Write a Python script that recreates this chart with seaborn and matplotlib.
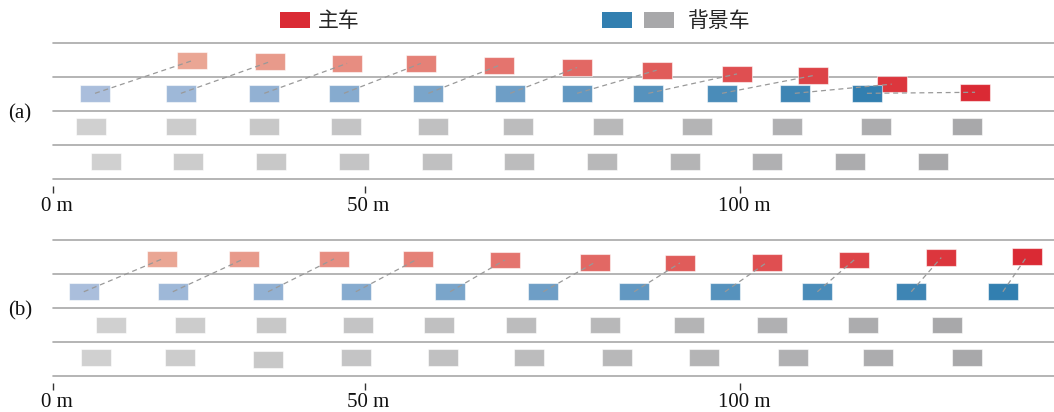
import numpy as np
import pandas as pd
import matplotlib
matplotlib.use("Agg")
import matplotlib.pyplot as plt
import seaborn as sns
from matplotlib.patches import Patch
from matplotlib.legend_handler import HandlerTuple
from matplotlib.markers import MarkerStyle
from matplotlib.transforms import ScaledTranslation

# ---------------------------------------------------------------- data
tick_pos = [0, 50, 100]
tick_labels = ["0 m", "50 m", "100 m"]
lane_edges = [0, 1, 2, 3, 4]
steps = list(range(11))

# (a) ego vehicle merges into the blue lane
a_ego_x = [22.3, 34.8, 47.2, 57.5, 67.9, 78.3, 88.9, 99.6, 109.7, 120.2, 131.3]
a_ego_y = [3.48, 3.45, 3.40, 3.40, 3.34, 3.28, 3.20, 3.09, 3.04, 2.79, 2.55]
a_blue_x = [6.7, 20.5, 33.9, 46.7, 58.5, 69.4, 78.3, 87.8, 97.6, 107.3, 116.9]
a_blue_y = [2.52] * 11
a_grey1_x = [6.1, 20.5, 33.9, 47.0, 59.1, 70.4, 82.4, 94.3, 106.3, 118.1, 130.2]
a_grey1_y = [1.54] * 11
a_grey0_x = [8.5, 21.6, 35.0, 48.3, 59.7, 70.6, 81.6, 92.7, 103.6, 114.7, 125.7]
a_grey0_y = [0.51] * 11

# (b) ego vehicle keeps its lane
b_ego_x = [17.5, 30.6, 45.1, 57.1, 68.7, 80.7, 92.0, 103.6, 115.2, 126.8, 138.2]
b_ego_y = [3.45, 3.45, 3.45, 3.45, 3.42, 3.35, 3.33, 3.35, 3.42, 3.49, 3.52]
b_blue_x = [4.9, 19.2, 34.5, 48.6, 61.4, 73.8, 85.9, 98.0, 110.3, 122.8, 135.0]
b_blue_y = [2.48] * 11
b_grey1_x = [9.3, 22.0, 35.0, 49.0, 59.9, 70.8, 82.0, 93.2, 104.3, 116.4, 127.6]
b_grey1_y = [1.50] * 11
b_grey0_x = [6.9, 20.4, 34.5, 48.6, 60.5, 71.9, 83.6, 95.2, 107.1, 118.4, 130.2]
b_grey0_y = [0.53, 0.53, 0.47, 0.53, 0.53, 0.53, 0.53, 0.53, 0.53, 0.53, 0.53]

# ---------------------------------------------------------------- style
sns.set_theme(style="white")
plt.rcParams["font.family"] = ["Liberation Serif", "Noto Sans CJK SC"]

rgb = lambda r, g, b: (r / 255, g / 255, b / 255)
RED = (rgb(234, 166, 148), rgb(218, 42, 52))
BLUE = (rgb(170, 190, 220), rgb(50, 127, 176))
GREY = (rgb(208, 208, 208), rgb(168, 168, 170))
LANE = "#a8a8a8"
LINK = "#999999"
FS = 15

# road axis: stretched beyond 50 m
K = 375.5 / 311.2


def fwd(x):
    x = np.asarray(x, float)
    return np.where(x <= 50, x, 50 + (x - 50) * K)


def inv(u):
    u = np.asarray(u, float)
    return np.where(u <= 50, u, 50 + (u - 50) / K)


# vehicle footprint marker (wider than tall)
hr = 16.7 / 30.0
car = MarkerStyle([(-1, -hr), (1, -hr), (1, hr), (-1, hr), (-1, -hr)])
car_size = (30 * 0.72) ** 2

fig = plt.figure(figsize=(10.54, 4.12), dpi=100)
W, H = 1054, 412
x_right = 50 + (1054 - 364.5) / 7.51


def panel(rect, label, label_y, groups, ego, blue):
    ax = fig.add_axes(rect)
    ax.set_xscale("function", functions=(fwd, inv))
    ax.set_xlim(0, x_right)
    ax.set_ylim(0, 4)

    for e in lane_edges:
        ax.axhline(e, color=LANE, lw=1.2, zorder=1, clip_on=False)

    for (xs, ys, cols) in groups:
        df = pd.DataFrame({"x": xs, "y": ys, "step": steps})
        cmap = sns.blend_palette(list(cols), as_cmap=True)
        sns.scatterplot(data=df, x="x", y="y", hue="step", palette=cmap,
                        hue_norm=(0, 10), marker=car, s=car_size,
                        linewidth=0.8, edgecolor=(1, 1, 1, 0.55),
                        legend=False, ax=ax, zorder=3)

    for bx, by, ex, ey in zip(blue[0], blue[1], ego[0], ego[1]):
        ax.plot([bx, ex], [by, ey], color=LINK, lw=0.9, ls=(0, (4, 3)),
                zorder=4)

    for s in ax.spines.values():
        s.set_visible(False)
    ax.spines["bottom"].set_position(("outward", 5.0))
    ax.set_xticks(tick_pos)
    ax.set_xticklabels(tick_labels)
    ax.set_yticks([])
    ax.set_xlabel("")
    ax.set_ylabel("")
    ax.tick_params(axis="x", bottom=True, labelbottom=True, direction="out",
                   length=5.2, width=1.0, color="#333333", pad=2.5,
                   labelsize=FS, labelcolor="#111111")
    shift = ScaledTranslation(4 / 100, 0, fig.dpi_scale_trans)
    for t in ax.get_xticklabels():
        t.set_transform(t.get_transform() + shift)

    fig.text(8 / W, 1 - label_y / H, label, ha="left", va="center",
             fontsize=FS, color="#111111")
    return ax


def ax_rect(top_px, bottom_px):
    left = 53.3 / W
    return [left, 1 - bottom_px / H, 1 - left, (bottom_px - top_px) / H]


panel(ax_rect(43, 179), "(a)", 114,
      [(a_ego_x, a_ego_y, RED), (a_blue_x, a_blue_y, BLUE),
       (a_grey1_x, a_grey1_y, GREY), (a_grey0_x, a_grey0_y, GREY)],
      (a_ego_x, a_ego_y), (a_blue_x, a_blue_y))

panel(ax_rect(240.3, 375.7), "(b)", 311,
      [(b_ego_x, b_ego_y, RED), (b_blue_x, b_blue_y, BLUE),
       (b_grey1_x, b_grey1_y, GREY), (b_grey0_x, b_grey0_y, GREY)],
      (b_ego_x, b_ego_y), (b_blue_x, b_blue_y))

# legend
fpx = FS * 100 / 72
h_ego = Patch(facecolor=RED[1], edgecolor="none")
h_bg = (Patch(facecolor=BLUE[1], edgecolor="none"),
        Patch(facecolor=GREY[1], edgecolor="none"))
fig.legend([h_ego], ["主车"], loc="center left",
           bbox_to_anchor=(280 / W, 1 - 22 / H), frameon=False, fontsize=FS,
           handlelength=30 / fpx, handleheight=16 / fpx,
           handletextpad=8 / fpx, borderpad=0, borderaxespad=0)
fig.legend([h_bg], ["背景车"], loc="center left",
           bbox_to_anchor=(602 / W, 1 - 22 / H), frameon=False, fontsize=FS,
           handlelength=72 / fpx, handleheight=16 / fpx,
           handletextpad=14 / fpx, borderpad=0, borderaxespad=0,
           handler_map={tuple: HandlerTuple(ndivide=None, pad=12 / fpx)})

fig.savefig("out.png", dpi=100)
